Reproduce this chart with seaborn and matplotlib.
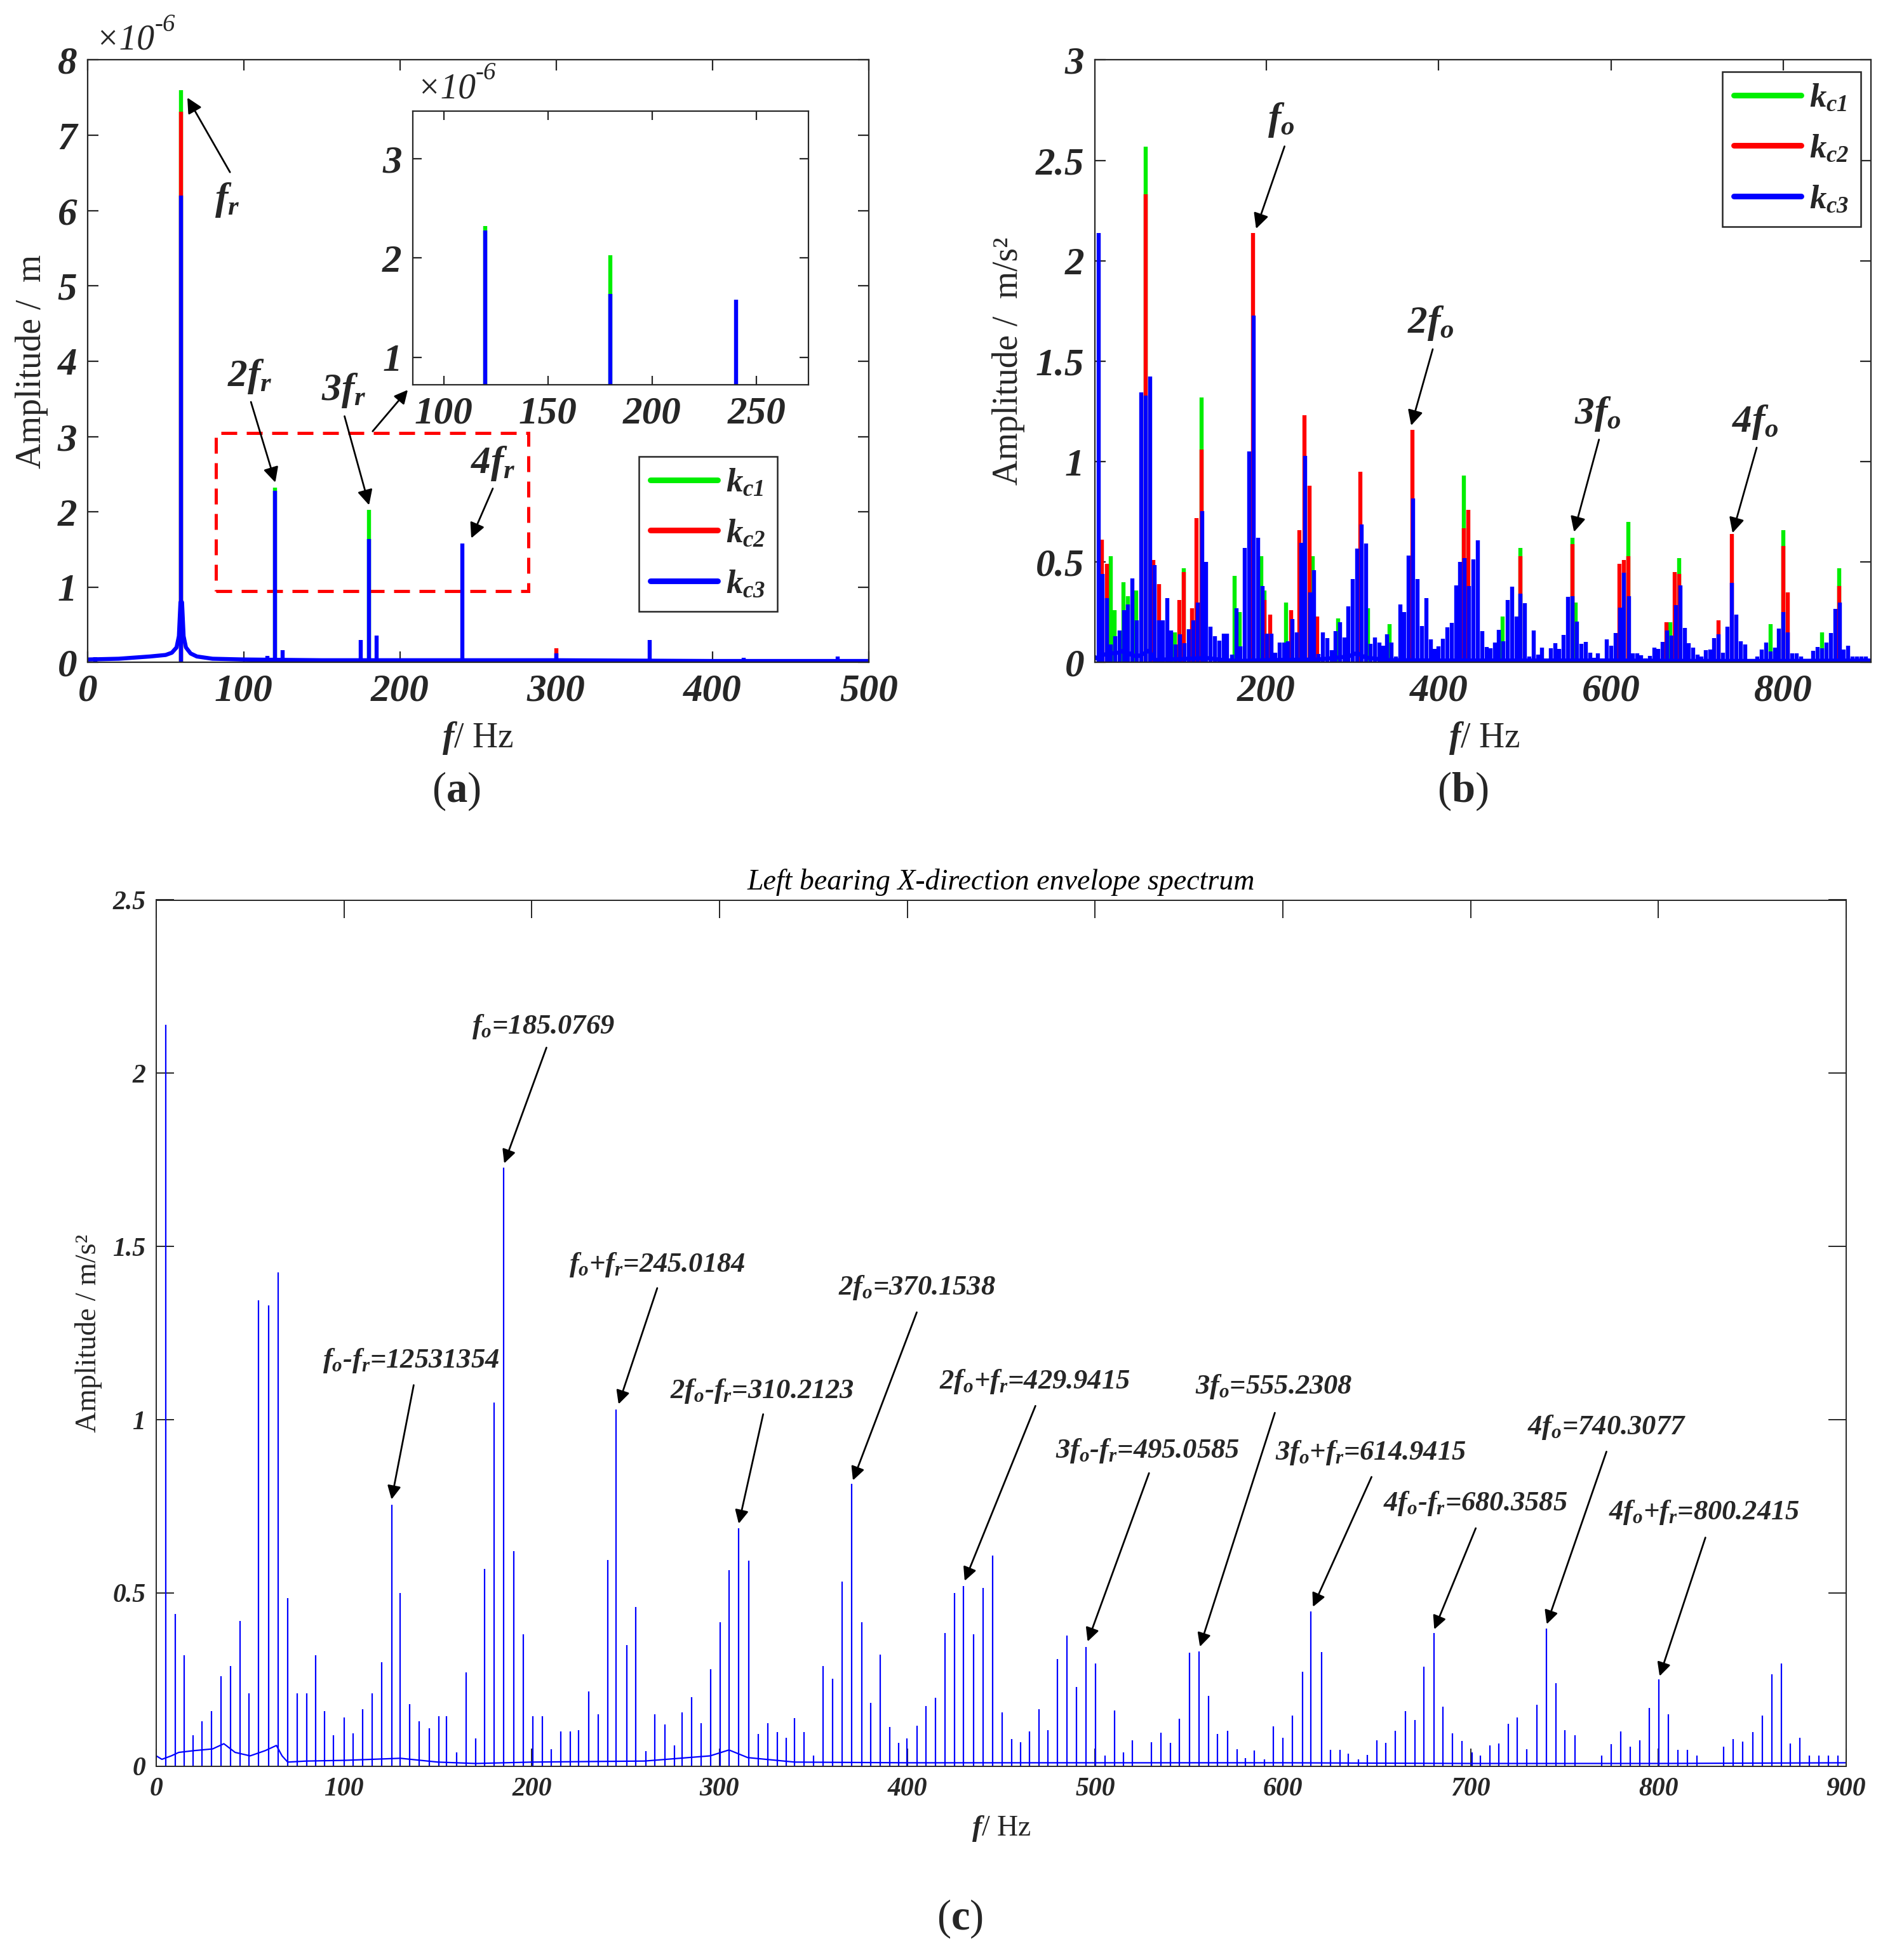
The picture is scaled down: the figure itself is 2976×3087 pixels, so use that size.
import matplotlib
matplotlib.use('Agg')
import matplotlib.pyplot as plt
import matplotlib.patches as patches
from matplotlib.lines import Line2D
import seaborn as sns

# ---------------- (a) displacement spectrum, amplitude in 1e-6 m ----------------
a_blue_f = [5, 60, 110, 115, 120, 125, 143, 155, 175, 180, 185, 240, 300, 360, 420, 480]
a_blue_amp = [0.07, 6.2, 0.04, 0.09, 2.28, 0.16, 0.04, 0.03, 0.3, 1.635, 0.36, 1.58, 0.12, 0.3, 0.06, 0.08]
a_red_f = [60, 300]
a_red_amp = [7.31, 0.19]
a_green_f = [60, 120, 180]
a_green_amp = [7.6, 2.32, 2.03]
a_base_f = [0, 20, 40, 50, 54, 57, 58.5, 59.5, 60.5, 61.5, 63, 66, 70, 80, 100, 150, 200, 300, 400, 500]
a_base_amp = [0.04, 0.05, 0.08, 0.1, 0.13, 0.2, 0.35, 0.8, 0.8, 0.35, 0.2, 0.12, 0.08, 0.05, 0.04, 0.03,
              0.03, 0.03, 0.02, 0.02]

# ---------------- (b)/(c) envelope spectrum, m/s^2 ----------------
c_blue_f = [5, 10, 15, 19.5, 24.5, 29.5, 34.5, 39.5, 44.5, 49.5, 54.5, 60, 65, 70, 75, 80, 85, 89.5,
            94.5, 100, 105, 110, 115, 120, 125.3, 130, 135, 140, 145.5, 150.5, 154.5, 160, 165, 170,
            175, 180, 185.1, 190.5, 195.5, 200.5, 205.5, 210.5, 215.5, 220.5, 225, 230.3, 235.3, 240.3,
            245, 250.5, 255.5, 260.7, 265.6, 270.9, 276, 280.1, 285.1, 290.3, 295.3, 300.2, 305.2, 310.2,
            315.4, 320.6, 325.6, 330.8, 335.5, 340, 345, 350.2, 355.2, 360.2, 365.2, 370.2, 375.6, 380.6,
            385.5, 390.5, 395.5, 399.8, 405, 410, 415, 420, 425, 430, 435.3, 440.3, 445.5, 450.5, 455.7,
            460.2, 465, 470, 475, 480, 485, 490, 495.1, 500.2, 505.2, 510.4, 515.2, 519.7, 530.1, 535.1,
            540, 545, 550.2, 555.2, 560.4, 565.3, 570.4, 575.5, 580.1, 584.8, 590, 595, 600.1, 605, 610.3,
            615, 620.5, 625.4, 630.5, 634.7, 640.2, 645.1, 650, 654.9, 660, 665.1, 670.2, 675.1, 680.4,
            685.3, 690.4, 695.5, 700.6, 705.2, 710.1, 715, 719.9, 724.9, 730, 735.2, 740.3, 745.4, 750.3,
            755.4, 769.8, 774.9, 780, 785.1, 790, 795.1, 800.2, 805.3, 810.4, 815.5, 820.6, 834.8, 839.9,
            845, 850.1, 855.2, 860.3, 865.4, 870.3, 875.4, 880.5, 885.4, 890.5, 895.6]
c_blue_amp = [2.14, 0.44, 0.32, 0.09, 0.13, 0.16, 0.26, 0.29, 0.42, 0.21, 1.345, 1.33, 1.425, 0.485, 0.21,
              0.21, 0.32, 0.16, 0.09, 0.14, 0.095, 0.165, 0.21, 0.30, 0.755, 0.50, 0.18, 0.13, 0.11, 0.145,
              0.145, 0.04, 0.27, 0.08, 0.57, 1.05, 1.727, 0.62, 0.38, 0.145, 0.145, 0.05, 0.10, 0.10, 0.105,
              0.216, 0.15, 0.596, 1.03, 0.35, 0.46, 0.044, 0.15, 0.12, 0.06, 0.155, 0.20, 0.125, 0.28, 0.416,
              0.566, 0.686, 0.594, 0.094, 0.124, 0.098, 0.083, 0.139, 0.098, 0.03, 0.289, 0.252, 0.533, 0.816,
              0.416, 0.183, 0.322, 0.114, 0.067, 0.081, 0.117, 0.174, 0.198, 0.385, 0.50, 0.52, 0.38, 0.514,
              0.608, 0.155, 0.078, 0.07, 0.10, 0.164, 0.105, 0.31, 0.377, 0.228, 0.344, 0.296, 0.03, 0.161,
              0.04, 0.075, 0.07, 0.097, 0.067, 0.137, 0.327, 0.331, 0.203, 0.093, 0.103, 0.05, 0.024, 0.045,
              0.02, 0.116, 0.082, 0.146, 0.272, 0.447, 0.33, 0.047, 0.047, 0.037, 0.02, 0.033, 0.074, 0.068,
              0.103, 0.16, 0.134, 0.287, 0.384, 0.172, 0.095, 0.073, 0.04, 0.03, 0.061, 0.066, 0.123, 0.14,
              0.05, 0.177, 0.398, 0.24, 0.105, 0.09, 0.03, 0.064, 0.10, 0.056, 0.075, 0.168, 0.25, 0.15,
              0.047, 0.047, 0.03, 0.057, 0.078, 0.071, 0.098, 0.147, 0.266, 0.297, 0.066, 0.083, 0.03, 0.03,
              0.03, 0.03]
c_base_f = [0, 3, 8, 12, 20, 30, 36, 42, 50, 58, 64, 67, 70, 80, 100, 130, 150, 170, 200, 260, 295, 305,
            315, 340, 400, 500, 600, 700, 800, 900]
c_base_amp = [0.03, 0.02, 0.03, 0.04, 0.045, 0.05, 0.065, 0.04, 0.03, 0.045, 0.06, 0.03, 0.012, 0.015,
              0.017, 0.023, 0.012, 0.008, 0.012, 0.015, 0.03, 0.047, 0.025, 0.012, 0.01, 0.01, 0.01, 0.008,
              0.008, 0.01]
b_red_f = [9, 14.5, 60, 69, 75, 99, 104, 114, 119, 124.5, 184.5, 198, 204, 229, 238, 244, 250, 259, 309,
           369.5, 429, 434, 495, 555, 610, 615, 620, 664, 674, 679, 725, 740, 800, 805, 865]
b_red_amp = [0.61, 0.49, 2.33, 0.51, 0.39, 0.31, 0.45, 0.27, 0.72, 1.06, 2.14, 0.31, 0.24, 0.26, 0.66,
             1.23, 0.88, 0.23, 0.95, 1.16, 0.67, 0.76, 0.53, 0.59, 0.49, 0.51, 0.53, 0.2, 0.45, 0.44, 0.21,
             0.64, 0.58, 0.35, 0.38]
b_green_f = [19, 24, 34, 39, 49, 60, 94, 104, 124.5, 163, 169, 194, 198, 223, 254, 283, 318, 343, 429, 474,
             495, 555, 559, 620, 669, 679, 785, 800, 845, 865]
b_green_amp = [0.53, 0.26, 0.40, 0.33, 0.36, 2.57, 0.15, 0.47, 1.32, 0.43, 0.25, 0.53, 0.36, 0.30, 0.53,
               0.22, 0.27, 0.19, 0.93, 0.23, 0.57, 0.62, 0.30, 0.70, 0.20, 0.52, 0.19, 0.66, 0.15, 0.47]

series_names = [r'$k_{c1}$', r'$k_{c2}$', r'$k_{c3}$']
series_colors = ['#00ee00', '#ff0000', '#0000ff']

c_texts = [r'$f_o$-$f_r$=12531354', r'$f_o$=185.0769', r'$f_o$+$f_r$=245.0184', r'2$f_o$-$f_r$=310.2123',
           r'2$f_o$=370.1538', r'2$f_o$+$f_r$=429.9415', r'3$f_o$-$f_r$=495.0585', r'3$f_o$=555.2308',
           r'3$f_o$+$f_r$=614.9415', r'4$f_o$-$f_r$=680.3585', r'4$f_o$=740.3077', r'4$f_o$+$f_r$=800.2415']
c_text_xy = [(135.5, 1.17), (206, 2.135), (266.6, 1.448), (322.5, 1.082), (405.2, 1.382), (467.8, 1.11),
             (527.9, 0.91), (595, 1.095), (646.8, 0.905), (702.5, 0.758), (772.5, 0.979), (824.4, 0.732)]
c_arrow_from = [(137.1, 1.10), (207.8, 2.074), (266.8, 1.38), (323.2, 1.016), (405, 1.31), (468.2, 1.04),
                (528.7, 0.846), (595.7, 1.02), (647.2, 0.835), (702.7, 0.687), (772.3, 0.908), (825, 0.66)]
c_arrow_to = [(125.3, 0.77), (185.3, 1.74), (246.2, 1.045), (310.2, 0.70), (371, 0.825), (430.5, 0.535),
              (496, 0.36), (555.8, 0.345), (616, 0.46), (680.6, 0.395), (740.5, 0.41), (800.6, 0.26)]

sns.set_theme(style='ticks')
plt.rcParams['font.family'] = ['Liberation Serif', 'DejaVu Serif']
plt.rcParams['mathtext.fontset'] = 'custom'
# math is used only for the bold-italic symbols (f_r, k_c1 ...), digits included
plt.rcParams['mathtext.rm'] = 'Liberation Serif:italic:bold'
plt.rcParams['mathtext.it'] = 'Liberation Serif:italic:bold'
plt.rcParams['mathtext.bf'] = 'Liberation Serif:bold'

INK = '#262626'
BI = dict(fontstyle='italic', fontweight='bold')

fig = plt.figure(figsize=(14.88, 15.435), dpi=200)
W, H = 1512.0, 1568.0
ax_a = fig.add_axes([70 / W, 1 - 530 / H, 625 / W, 482 / H])
ax_b = fig.add_axes([876 / W, 1 - 530 / H, 621 / W, 482 / H])
ax_c = fig.add_axes([125 / W, 1 - 1413 / H, 1352 / W, 693 / H])
ax_in = fig.add_axes([330 / W, 1 - 308 / H, 317 / W, 219 / H])


def style_axes(ax, tick_len, lw):
    ax.tick_params(direction='in', top=True, right=True, length=tick_len, width=lw, colors=INK, pad=6)
    for s in ax.spines.values():
        s.set_linewidth(lw)
        s.set_color(INK)


def arrow(ax, start, end, ms=18):
    ax.annotate('', xy=end, xytext=start,
                arrowprops=dict(arrowstyle='-|>', color='black', lw=1.0, mutation_scale=ms,
                                shrinkA=0, shrinkB=0))


def sci_label(ax, x, y):
    t = ax.text(x, y, '×10', transform=ax.transAxes, fontsize=20, fontstyle='italic',
                ha='left', va='bottom', color=INK)
    ax.annotate('-6', xy=(1.0, 0.62), xycoords=t, fontsize=14, fontstyle='italic',
                ha='left', va='bottom', color=INK, annotation_clip=False)


THICK = 2.3

# ---------------- panel (a) ----------------
for ax in (ax_a, ax_in):
    ax.vlines(a_green_f, 0, a_green_amp, colors=series_colors[0], linewidth=THICK)
    ax.vlines(a_red_f, 0, a_red_amp, colors=series_colors[1], linewidth=THICK)
    sns.lineplot(x=a_base_f, y=a_base_amp, ax=ax, color=series_colors[2], linewidth=THICK)
    ax.vlines(a_blue_f, 0, a_blue_amp, colors=series_colors[2], linewidth=THICK)

ax_a.set_xlim(0, 500)
ax_a.set_ylim(0, 8)
ax_a.set_xticks(range(0, 501, 100), labels=[str(v) for v in range(0, 501, 100)], fontsize=22, **BI)
ax_a.set_yticks(range(0, 9), labels=[str(v) for v in range(0, 9)], fontsize=22, **BI)
style_axes(ax_a, 6, 0.8)
ax_a.set_xlabel(r'$f$/ Hz', fontsize=20, color=INK)
ax_a.xaxis.set_label_coords(0.5, -0.095)
ax_a.set_ylabel('Amplitude /  m', fontsize=20, color=INK)
ax_a.yaxis.set_label_coords(-0.05, 0.5)
sci_label(ax_a, 0.01, 1.005)

ax_a.add_patch(patches.Rectangle((82, 0.95), 200, 2.1, fill=False, edgecolor='red',
                                 linestyle=(0, (5, 3)), linewidth=1.8))
arrow(ax_a, (182.5, 3.07), (205, 3.62), ms=16)

a_texts = [r'$f_r$', r'2$f_r$', r'3$f_r$', r'4$f_r$']
a_text_xy = [(89.4, 6.14), (103.9, 3.80), (163.8, 3.61), (259.4, 2.64)]
a_arrow_from = [(91.2, 6.51), (104.6, 3.46), (164.5, 3.27), (259.4, 2.31)]
a_arrow_to = [(63.9, 7.5), (120.2, 2.39), (180.2, 2.09), (245.6, 1.65)]
for t, xy, s, e in zip(a_texts, a_text_xy, a_arrow_from, a_arrow_to):
    ax_a.text(xy[0], xy[1], t, ha='center', va='center', fontsize=22, **BI)
    arrow(ax_a, s, e)

handles = [Line2D([], [], color=c, linewidth=3.2) for c in series_colors]
legend_kw = dict(fontsize=19, frameon=True, fancybox=False, edgecolor=INK, framealpha=1,
                 handlelength=2.0, handletextpad=0.25, labelspacing=0.6, borderpad=0.35,
                 borderaxespad=0)
leg_a = ax_a.legend(handles, series_names, loc='lower left', bbox_to_anchor=(0.7056, 0.085), **legend_kw)
leg_a.get_frame().set_linewidth(0.9)

# inset
ax_in.set_xlim(85, 275)
ax_in.set_ylim(0.72, 3.48)
ax_in.set_xticks([100, 150, 200, 250], labels=['100', '150', '200', '250'], fontsize=22, **BI)
ax_in.set_yticks([1, 2, 3], labels=['1', '2', '3'], fontsize=22, **BI)
style_axes(ax_in, 5, 0.8)
ax_in.set_xlabel('')
ax_in.set_ylabel('')
sci_label(ax_in, 0.01, 1.02)

# ---------------- panel (b) ----------------
ax_b.vlines(b_green_f, 0, b_green_amp, colors=series_colors[0], linewidth=THICK)
ax_b.vlines(b_red_f, 0, b_red_amp, colors=series_colors[1], linewidth=THICK)
sns.lineplot(x=c_base_f, y=c_base_amp, ax=ax_b, color=series_colors[2], linewidth=THICK)
ax_b.vlines(c_blue_f, 0, c_blue_amp, colors=series_colors[2], linewidth=THICK)
ax_b.set_xlim(1, 902)
ax_b.set_ylim(0, 3)
ax_b.set_xticks([200, 400, 600, 800], labels=['200', '400', '600', '800'], fontsize=22, **BI)
ax_b.set_yticks([0, 0.5, 1, 1.5, 2, 2.5, 3], labels=['0', '0.5', '1', '1.5', '2', '2.5', '3'],
                fontsize=22, **BI)
style_axes(ax_b, 6, 0.8)
ax_b.set_xlabel(r'$f$/ Hz', fontsize=20, color=INK)
ax_b.xaxis.set_label_coords(0.502, -0.095)
ax_b.set_ylabel('Amplitude /  m/s²', fontsize=20, color=INK)
ax_b.yaxis.set_label_coords(-0.09, 0.5)

b_texts = [r'$f_o$', r'2$f_o$', r'3$f_o$', r'4$f_o$']
b_text_xy = [(217, 2.70), (391, 1.69), (584.5, 1.237), (767.4, 1.196)]
b_arrow_from = [(221, 2.57), (393, 1.56), (586, 1.11), (769, 1.07)]
b_arrow_to = [(188, 2.16), (368, 1.18), (557, 0.65), (741, 0.645)]
for t, xy, s, e in zip(b_texts, b_text_xy, b_arrow_from, b_arrow_to):
    ax_b.text(xy[0], xy[1], t, ha='center', va='center', fontsize=22, **BI)
    arrow(ax_b, s, e)

leg_b = ax_b.legend(handles, series_names, loc='upper left', bbox_to_anchor=(0.808, 0.981), **legend_kw)
leg_b.get_frame().set_linewidth(0.9)

# ---------------- panel (c) ----------------
sns.lineplot(x=c_base_f, y=c_base_amp, ax=ax_c, color=series_colors[2], linewidth=0.8)
ax_c.vlines(c_blue_f, 0, c_blue_amp, colors=series_colors[2], linewidth=0.8)
ax_c.set_xlim(0, 900)
ax_c.set_ylim(0, 2.5)
ax_c.set_xticks(range(0, 901, 100), labels=[str(v) for v in range(0, 901, 100)], fontsize=15, **BI)
ax_c.set_yticks([0, 0.5, 1, 1.5, 2, 2.5], labels=['0', '0.5', '1', '1.5', '2', '2.5'], fontsize=15, **BI)
style_axes(ax_c, 10, 0.7)
ax_c.set_xlabel(r'$f$/ Hz', fontsize=16.5, color=INK)
ax_c.xaxis.set_label_coords(0.5, -0.055)
ax_c.set_ylabel('Amplitude / m/s²', fontsize=16.5, color=INK)
ax_c.yaxis.set_label_coords(-0.032, 0.5)
ax_c.set_title('Left bearing X-direction envelope spectrum', fontsize=16.5, fontstyle='italic',
               color='black', pad=6)

for t, xy, s, e in zip(c_texts, c_text_xy, c_arrow_from, c_arrow_to):
    ax_c.text(xy[0], xy[1], t, ha='center', va='center', fontsize=16, **BI)
    arrow(ax_c, s, e, ms=16)

# panel letters
fig.text(365 / W, 1 - 633 / H, r'($\mathbf{a}$)', ha='center', va='center', fontsize=24, color=INK)
fig.text(1170 / W, 1 - 633 / H, r'($\mathbf{b}$)', ha='center', va='center', fontsize=24, color=INK)
fig.text(768 / W, 1 - 1535 / H, r'($\mathbf{c}$)', ha='center', va='center', fontsize=24, color=INK)

fig.savefig('out.png', dpi=200, facecolor='white')
